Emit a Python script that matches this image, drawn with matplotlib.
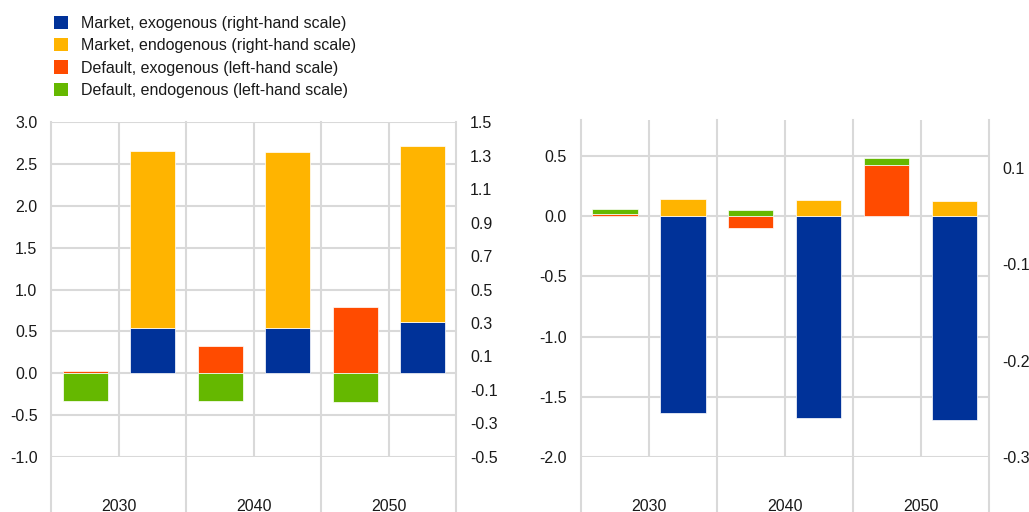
import matplotlib
matplotlib.use("Agg")
import matplotlib.pyplot as plt
import matplotlib.transforms as mtransforms
from matplotlib.patches import Patch
import numpy as np

plt.rcParams['font.family'] = ['Liberation Sans', 'DejaVu Sans']
plt.rcParams['font.size'] = 11.5

years = ['2030', '2040', '2050']
legend_labels = ['Market, exogenous (right-hand scale)',
                 'Market, endogenous (right-hand scale)',
                 'Default, exogenous (left-hand scale)',
                 'Default, endogenous (left-hand scale)']
colors = ['#003299', '#FFB400', '#FF4B00', '#65B800']

# Panel A (left)
a_default_exog = [0.02, 0.33, 0.79]
a_default_endog = [-0.33, -0.33, -0.34]
a_market_exog = [0.271, 0.267, 0.305]
a_market_endog = [1.057, 1.057, 1.053]
a_left_ticks = [-1.0, -0.5, 0.0, 0.5, 1.0, 1.5, 2.0, 2.5, 3.0]
a_right_ticks = [-0.5, -0.3, -0.1, 0.1, 0.3, 0.5, 0.7, 0.9, 1.1, 1.3, 1.5]

# Panel B (right)
b_default_exog = [0.02, -0.10, 0.43]
b_default_endog = [0.04, 0.05, 0.053]
b_market_exog = [-0.2045, -0.2097, -0.2118]
b_market_endog = [0.0176, 0.0169, 0.0156]
b_left_ticks = [-2.0, -1.5, -1.0, -0.5, 0.0, 0.5]
b_right_ticks = [0.05, -0.05, -0.15, -0.25]
b_right_labels = ['0.1', '-0.1', '-0.2', '-0.3']

W, H = 1029, 512
fig = plt.figure(figsize=(W / 100, H / 100), dpi=100)

GRID = '#d9d9d9'
BAR_W = 0.667


def stacked(ax, x, series, cols):
    pos = np.zeros(len(x))
    neg = np.zeros(len(x))
    for vals, c in zip(series, cols):
        vals = np.asarray(vals, dtype=float)
        bottom = np.where(vals >= 0, pos, neg)
        ax.bar(x, vals, bottom=bottom, width=BAR_W, color=c,
               edgecolor='white', linewidth=0.5, zorder=3)
        pos = pos + np.where(vals >= 0, vals, 0)
        neg = neg + np.where(vals < 0, vals, 0)


def panel(rect_px, ylim_l, ticks_l, ylim_r, ticks_r, labels_r,
          d_exog, d_endog, m_exog, m_endog):
    x0, y0, x1, y1 = rect_px
    ax = fig.add_axes([x0 / W, 1 - y1 / H, (x1 - x0) / W, (y1 - y0) / H])
    ax2 = ax.twinx()
    n = len(years)
    xd = np.arange(n) * 2 + 0.5   # default bars
    xm = np.arange(n) * 2 + 1.5   # market bars
    ax.set_xlim(0, 2 * n)
    ax.set_ylim(*ylim_l)
    ax.set_yticks(ticks_l)
    ax.set_yticklabels([f'{t:.1f}' for t in ticks_l])
    ax2.set_ylim(*ylim_r)
    ax2.set_yticks(ticks_r)
    ax2.set_yticklabels(labels_r)
    for a in (ax, ax2):
        for s in a.spines.values():
            s.set_visible(False)
        a.tick_params(axis='y', length=0, pad=10, labelsize=11.5, colors='#1a1a1a')
    ax.yaxis.grid(True, color=GRID, linewidth=1.5)
    ax.set_axisbelow(True)
    # vertical lines
    for xv in range(1, 2 * n, 2):
        ax.axvline(xv, color=GRID, linewidth=1.5, zorder=1)
    trans = mtransforms.blended_transform_factory(ax.transData, ax.transAxes)
    for xv in range(0, 2 * n + 1, 2):
        ax.plot([xv, xv], [1, -0.3], transform=trans, color=GRID,
                linewidth=1.5, clip_on=False, zorder=1)
    ax.set_xticks(np.arange(n) * 2 + 1)
    ax.set_xticklabels(years)
    ax.tick_params(axis='x', length=0, pad=30.5, labelsize=11.5, colors='#1a1a1a')
    stacked(ax, xd, [d_exog, d_endog], [colors[2], colors[3]])
    stacked(ax2, xm, [m_exog, m_endog], [colors[0], colors[1]])
    return ax


panel((51.3, 122.3, 456.3, 456.7), (-1.0, 3.0), a_left_ticks,
      (-0.5, 1.5), a_right_ticks, [f'{t:.1f}' for t in a_right_ticks],
      a_default_exog, a_default_endog, a_market_exog, a_market_endog)

panel((581.0, 120.0, 988.5, 457.0), (-2.0, 0.8), b_left_ticks,
      (-0.25, 0.1), b_right_ticks, b_right_labels,
      b_default_exog, b_default_endog, b_market_exog, b_market_endog)

handles = [Patch(facecolor=c, edgecolor='none') for c in colors]
fig.legend(handles, legend_labels, loc='upper left',
           bbox_to_anchor=(54 / W, 1 - 15.5 / H), frameon=False,
           borderpad=0, borderaxespad=0, handlelength=0.9, handleheight=0.9,
           handletextpad=0.8, labelspacing=0.46, fontsize=11.5,
           labelcolor='#1a1a1a')

fig.savefig('out.png', dpi=100)
